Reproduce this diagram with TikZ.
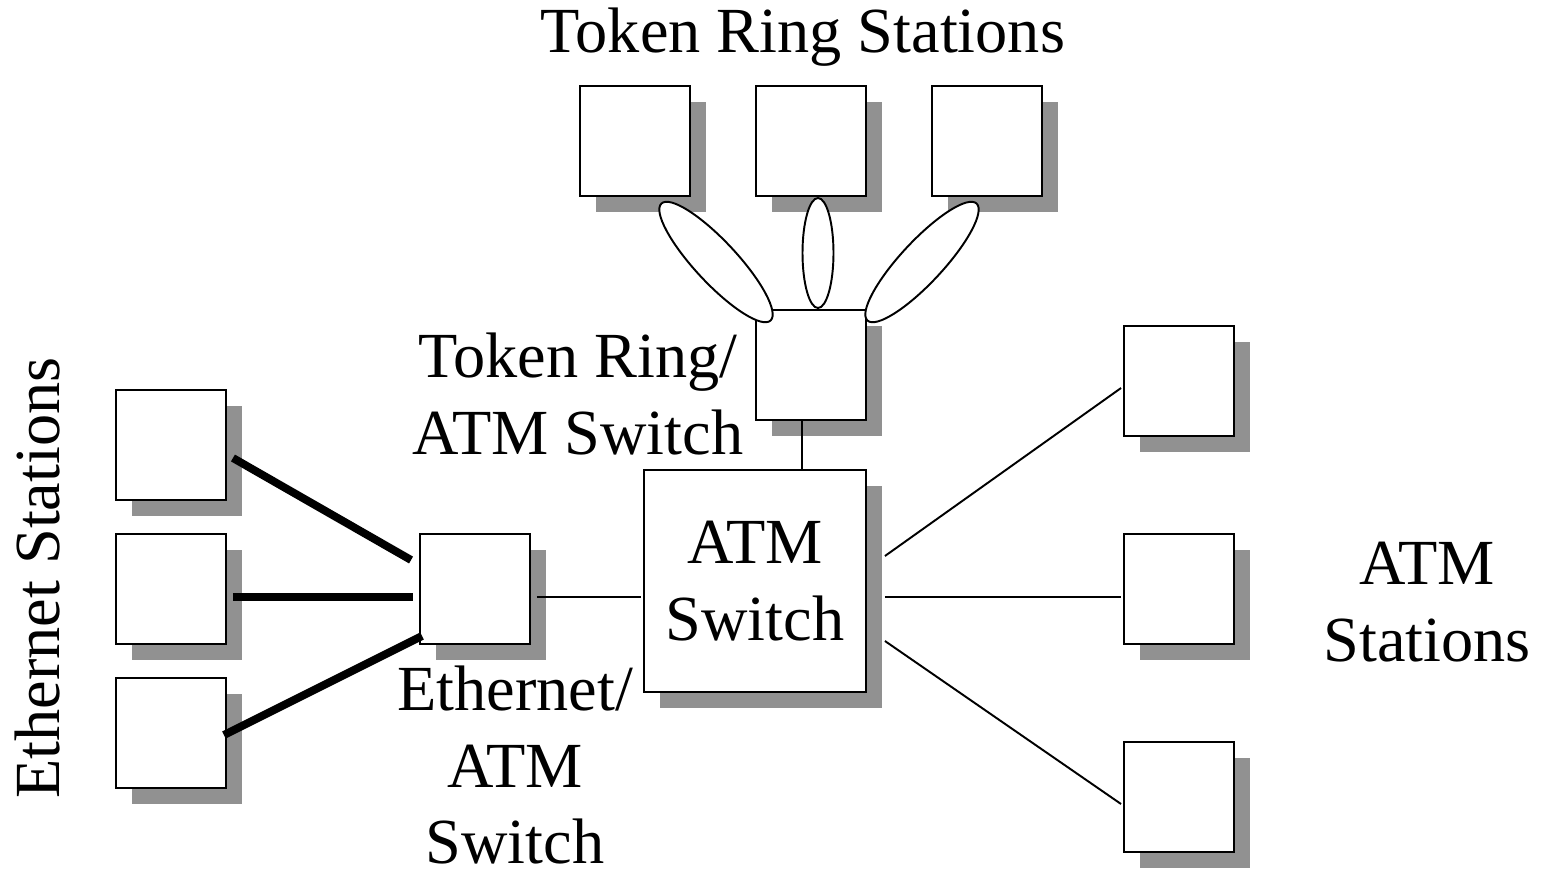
\documentclass[tikz,border=0pt]{standalone}
\usepackage{fontspec}
\setmainfont{Liberation Serif}
\usepackage{tikz}
\usetikzlibrary{positioning,shadows,shapes.geometric}

\begin{document}
\begin{tikzpicture}[x=0.02cm, y=-0.02cm,
    station/.style={draw, rectangle, fill=white, line width=1.1pt, inner sep=0pt,
        minimum width=2.2cm, minimum height=2.2cm,
        drop shadow={shadow xshift=0.32cm, shadow yshift=-0.32cm, fill=black!43, opacity=1}},
    ring/.style={draw, ellipse, fill=white, line width=1.1pt, inner sep=0pt},
    lbl/.style={inner sep=0pt, align=center, font=\fontsize{36.6}{43.5}\selectfont},
    thinline/.style={line width=1.1pt},
    ethline/.style={line width=4.5pt}]
    \useasboundingbox (0,0) rectangle (1542,870);

    % token ring stations
    \node[station] (tr1) at (635,141) {};
    \node[station] (tr2) at (811,141) {};
    \node[station] (tr3) at (987,141) {};
    \node[station] (trsw) at (811,365) {};

    % switches
    \node[station, lbl, minimum width=4.44cm, minimum height=4.44cm] (atmsw) at (755,581) {ATM\\Switch};
    \node[station] (ethsw) at (475,589) {};

    % ethernet stations
    \node[station] (eth1) at (171,445) {};
    \node[station] (eth2) at (171,589) {};
    \node[station] (eth3) at (171,733) {};

    % atm stations
    \node[station] (atm1) at (1179,381) {};
    \node[station] (atm2) at (1179,589) {};
    \node[station] (atm3) at (1179,797) {};

    % rings
    \node[ring, minimum width=3.2cm, minimum height=0.84cm, rotate=-47] (ringl) at (716,262) {};
    \node[ring, minimum width=0.62cm, minimum height=2.2cm] (ringm) at (818,253) {};
    \node[ring, minimum width=3.2cm, minimum height=0.84cm, rotate=47] (ringr) at (922,262) {};

    % links
    \draw[ethline] ([shift={(6,13)}]eth1.east) -- ([shift={(-8,-29)}]ethsw.west);
    \draw[ethline] ([shift={(6,8)}]eth2.east) -- ([shift={(-6,8)}]ethsw.west);
    \draw[ethline] ([shift={(-3,2)}]eth3.east) -- ([shift={(3,-9)}]ethsw.south west);
    \draw[thinline] ([shift={(6,8)}]ethsw.east) -- ([shift={(-2,16)}]atmsw.west);
    \draw[thinline] ([shift={(-9,0)}]trsw.south) -- ([shift={(-9,0)}]trsw.south |- atmsw.north);
    \draw[thinline] ([shift={(18,-25)}]atmsw.east) -- ([shift={(-2,7)}]atm1.west);
    \draw[thinline] ([shift={(18,16)}]atmsw.east) -- ([shift={(-2,8)}]atm2.west);
    \draw[thinline] ([shift={(18,60)}]atmsw.east) -- ([shift={(-2,7)}]atm3.west);

    % labels
    \node[lbl] (trlbl) at (803,37) {Token Ring Stations};
    \node[lbl] (trswlbl) at (578,394) {Token Ring/\\ATM Switch};
    \node[lbl] (ethswlbl) at (515,765) {Ethernet/\\ATM\\Switch};
    \node[lbl] (atmlbl) at (1427,602) {ATM\\Stations};
    \node[lbl, rotate=90] (ethlbl) at (38,578) {Ethernet Stations};
\end{tikzpicture}
\end{document}
